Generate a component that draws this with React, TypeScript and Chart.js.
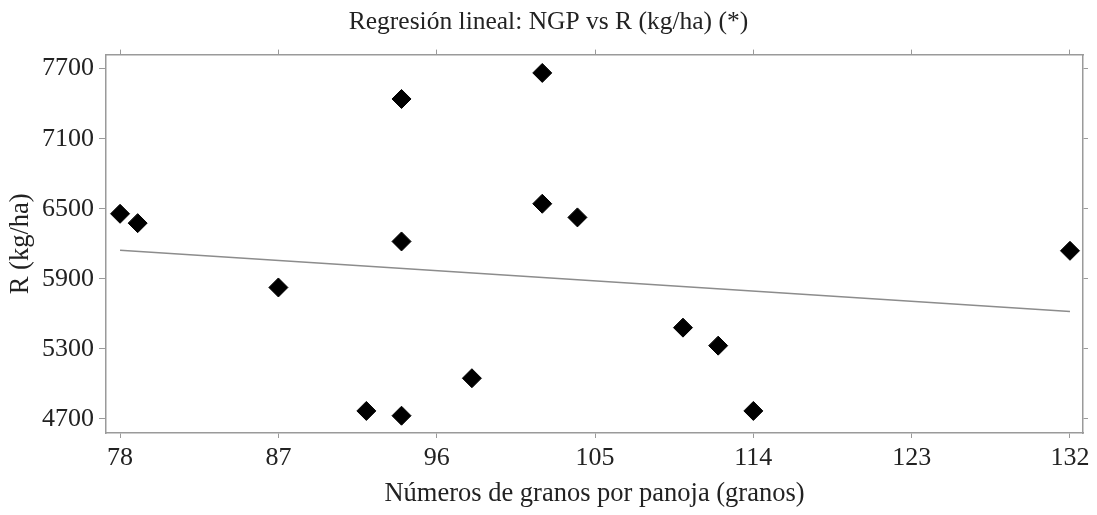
import React, { useEffect, useRef } from "react";
import { Chart, registerables } from "chart.js";

Chart.register(...registerables);

// Granos por panoja (x) and yield in kg/ha (y) for each plot
const granosPorPanoja = [78, 79, 94, 94, 87, 92, 94, 98, 102, 102, 104, 110, 112, 114, 132];
const rendimiento = [6457, 6377, 7440, 6220, 5826, 4769, 4728, 5049, 7663, 6543, 6426, 5482, 5328, 4769, 6140];

// Fitted regression line end points
const rectaX = [78, 132];
const rectaY = [6145, 5620];

// Axis tick values
const xTicks = [78, 87, 96, 105, 114, 123, 132];
const yTicks = [4700, 5300, 5900, 6500, 7100, 7700];

const X_MIN = 77.2;
const X_MAX = 132.74;
const Y_MIN = 4580;
const Y_MAX = 7820;

const W = 1097;
const H = 515;
const SERIF = "'Liberation Serif', 'Times New Roman', serif";
const FRAME = "#9a9a9a";
const TEXT = "#222";

export default function App() {
  const canvasRef = useRef<HTMLCanvasElement | null>(null);

  useEffect(() => {
    document.body.style.margin = "0";
    const canvas = canvasRef.current;
    if (!canvas) return;

    const setTicks = (vals: number[]) => (scale: any) => {
      scale.ticks = vals.map((v) => ({ value: v }));
    };

    const chart = new Chart(canvas, {
      type: "scatter",
      data: {
        datasets: [
          {
            label: "NGP vs R",
            data: granosPorPanoja.map((x, i) => ({ x, y: rendimiento[i] })),
            pointStyle: "rectRot",
            pointRadius: 9.5,
            pointHoverRadius: 9.5,
            backgroundColor: "#000",
            borderColor: "#000",
            borderWidth: 1,
          },
          {
            label: "Regresión",
            data: rectaX.map((x, i) => ({ x, y: rectaY[i] })),
            showLine: true,
            borderColor: "#8c8c8c",
            borderWidth: 1.5,
            pointRadius: 0,
            pointHoverRadius: 0,
          },
        ],
      },
      options: {
        responsive: false,
        animation: false,
        layout: { padding: 0 },
        plugins: {
          legend: { display: false },
          tooltip: { enabled: false },
          title: {
            display: true,
            text: "Regresión lineal: NGP vs R (kg/ha) (*)",
            color: TEXT,
            font: { family: SERIF, size: 25.5, weight: "normal" },
            padding: { top: 7, bottom: 0 },
          },
        },
        scales: {
          x: {
            type: "linear",
            position: "bottom",
            min: X_MIN,
            max: X_MAX,
            afterBuildTicks: setTicks(xTicks),
            afterFit: (s: any) => {
              s.height = 82;
            },
            ticks: {
              color: TEXT,
              font: { family: SERIF, size: 26 },
              padding: 5,
              maxRotation: 0,
              autoSkip: false,
              callback: (v: any) => String(v),
            },
            grid: { drawOnChartArea: false, drawTicks: true, tickLength: 5, color: FRAME, lineWidth: 1 },
            border: { display: true, color: FRAME, width: 1.5 },
            title: {
              display: true,
              text: "Números de granos por panoja (granos)",
              color: TEXT,
              font: { family: SERIF, size: 26.5 },
              padding: { top: 0, bottom: 5 },
            },
          },
          x2: {
            type: "linear",
            position: "top",
            min: X_MIN,
            max: X_MAX,
            afterBuildTicks: setTicks(xTicks),
            afterFit: (s: any) => {
              s.height = 17;
            },
            ticks: { display: false },
            grid: { drawOnChartArea: false, drawTicks: true, tickLength: 5, color: FRAME, lineWidth: 1 },
            border: { display: true, color: FRAME, width: 1.5 },
          },
          y: {
            type: "linear",
            position: "left",
            min: Y_MIN,
            max: Y_MAX,
            afterBuildTicks: setTicks(yTicks),
            afterFit: (s: any) => {
              s.width = 106;
            },
            ticks: {
              color: TEXT,
              font: { family: SERIF, size: 26 },
              padding: 5,
              autoSkip: false,
              callback: (v: any) => String(v),
            },
            grid: { drawOnChartArea: false, drawTicks: true, tickLength: 7, color: FRAME, lineWidth: 1 },
            border: { display: true, color: FRAME, width: 1.5 },
            title: {
              display: true,
              text: "R (kg/ha)",
              color: TEXT,
              font: { family: SERIF, size: 26.5 },
              padding: { top: 5, bottom: 0 },
            },
          },
          y2: {
            type: "linear",
            position: "right",
            min: Y_MIN,
            max: Y_MAX,
            afterBuildTicks: setTicks(yTicks),
            afterFit: (s: any) => {
              s.width = 14;
            },
            ticks: { display: false },
            grid: { drawOnChartArea: false, drawTicks: true, tickLength: 5, color: FRAME, lineWidth: 1 },
            border: { display: true, color: FRAME, width: 1.5 },
          },
        },
      },
    });

    return () => chart.destroy();
  }, []);

  return (
    <div style={{ width: W, height: H, background: "#fff" }}>
      <canvas ref={canvasRef} width={W} height={H} style={{ display: "block", width: W, height: H }} />
    </div>
  );
}
